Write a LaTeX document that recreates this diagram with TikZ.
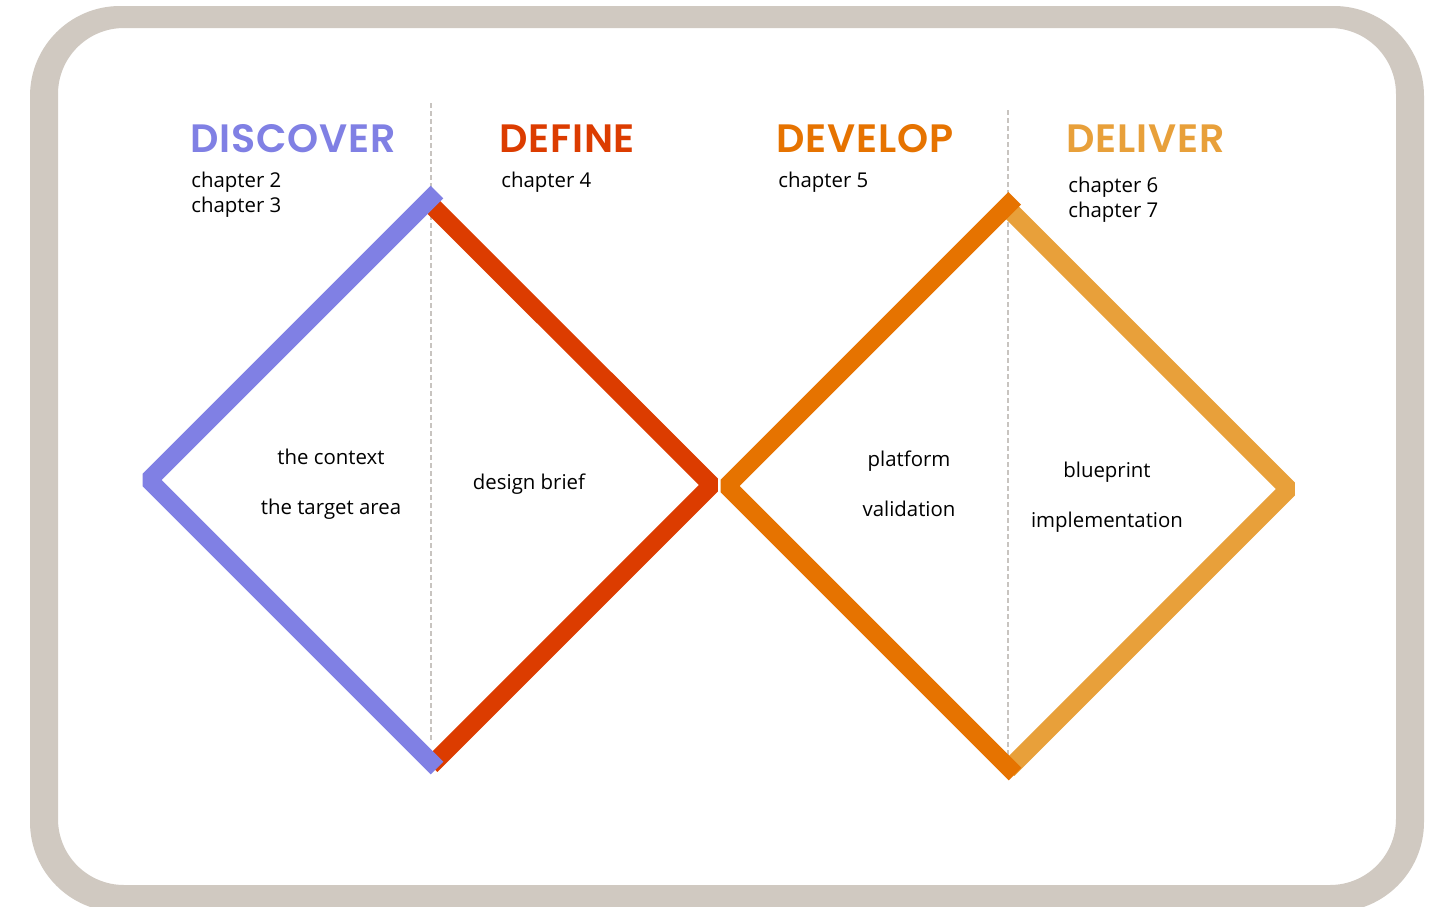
\documentclass[tikz,border=0pt]{standalone}
\usepackage{fontspec}
\setmainfont{Open Sans}
\newfontfamily\headfont{Poppins SemiBold}[LetterSpace=2]
\usepackage{tikz}
\usetikzlibrary{calc}
\tikzset{>=stealth}

\definecolor{frame}{HTML}{D0C9C1}
\definecolor{discover}{HTML}{8080E4}
\definecolor{define}{HTML}{DC3C00}
\definecolor{develop}{HTML}{E67300}
\definecolor{deliver}{HTML}{E8A03A}
\definecolor{divider}{HTML}{C8C4C0}

\tikzset{
  phase/.style={anchor=base west,font=\headfont\fontsize{19.8}{24}\selectfont,inner sep=0pt},
  chap/.style={anchor=base west,font=\fontsize{10.2}{12}\selectfont,inner sep=0pt},
  topic/.style={anchor=base,font=\fontsize{10.2}{12}\selectfont,inner sep=0pt},
  wing/.style={line width=9pt,line join=bevel,line cap=butt},
  split/.style={divider,line width=0.6pt,dash pattern=on 2.5pt off 1.5pt}
}

\begin{document}
\begin{tikzpicture}[x=0.5pt,y=-0.5pt]
    \useasboundingbox (0,0) rectangle (1442,906);
    \fill[white] (0,0) rectangle (1442,906);
    \fill[frame,even odd rule] [rounded corners=45pt] (30,6) rectangle (1424,912)
        [rounded corners=33pt] (58,28) rectangle (1396,885);

      % dividers
      \draw[split] (431,103)--(431,742);
      \draw[split] (1008,110)--(1008,762);

    % first diamond
    \draw[wing,define] (431,204.6)--(711.6,485)--(431,765.6);
    \draw[wing,discover] (437,192)--(149,480)--(437,768);

    % second diamond
    \draw[wing,deliver] (1008,208.4)--(1288.6,489)--(1008,769.6);
    \draw[wing,develop] (1014.7,198.3)--(727,486)--(1015,774);

      \node[phase,text=discover] (discover) at (190,152) {DISCOVER};
      \node[phase,text=define] (define) at (499,152) {DEFINE};
      \node[phase,text=develop] (develop) at (776,152) {DEVELOP};
      \node[phase,text=deliver] (deliver) at (1066,152) {DELIVER};

      \node[chap] (ch2) at (191,187) {chapter 2};
      \node[chap] (ch3) at (191,212) {chapter 3};
      \node[chap] (ch4) at (501,187) {chapter 4};
      \node[chap] (ch5) at (778,187) {chapter 5};
      \node[chap] (ch6) at (1068,192) {chapter 6};
      \node[chap] (ch7) at (1068,217) {chapter 7};

      \node[topic] (context) at (331,464) {the context};
      \node[topic] (target) at (331,514) {the target area};
      \node[topic] (brief) at (529,489) {design brief};
      \node[topic] (platform) at (909,466) {platform};
      \node[topic] (validation) at (909,516) {validation};
      \node[topic] (blueprint) at (1107,477) {blueprint};
      \node[topic] (implementation) at (1107,527) {implementation};
\end{tikzpicture}
\end{document}
